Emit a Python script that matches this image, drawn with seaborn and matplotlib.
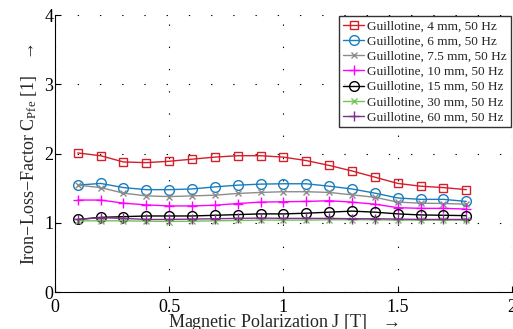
import numpy as np
import pandas as pd
import matplotlib
matplotlib.use("Agg")
import matplotlib.pyplot as plt
import seaborn as sns

# polarization J [T]
J = [0.1, 0.2, 0.3, 0.4, 0.5, 0.6, 0.7, 0.8, 0.9, 1.0, 1.1, 1.2, 1.3, 1.4, 1.5, 1.6, 1.7, 1.8]

cut_4 = [2.01, 1.97, 1.88, 1.87, 1.89, 1.92, 1.95, 1.97, 1.97, 1.95, 1.90, 1.83, 1.75, 1.66, 1.57, 1.53, 1.51, 1.48]
cut_6 = [1.545, 1.57, 1.51, 1.48, 1.48, 1.49, 1.52, 1.545, 1.56, 1.565, 1.565, 1.53, 1.49, 1.43, 1.36, 1.34, 1.34, 1.31]
cut_7_5 = [1.545, 1.51, 1.43, 1.39, 1.38, 1.39, 1.40, 1.425, 1.44, 1.45, 1.45, 1.44, 1.405, 1.37, 1.30, 1.285, 1.28, 1.27]
cut_10 = [1.33, 1.33, 1.285, 1.26, 1.245, 1.245, 1.255, 1.28, 1.30, 1.305, 1.31, 1.32, 1.30, 1.27, 1.22, 1.21, 1.21, 1.20]
cut_15 = [1.05, 1.08, 1.09, 1.10, 1.10, 1.10, 1.11, 1.12, 1.13, 1.13, 1.14, 1.155, 1.17, 1.155, 1.13, 1.115, 1.11, 1.105]
cut_30 = [1.03, 1.03, 1.03, 1.025, 1.02, 1.025, 1.03, 1.035, 1.04, 1.04, 1.04, 1.045, 1.045, 1.045, 1.04, 1.04, 1.04, 1.04]
cut_60 = [1.05, 1.075, 1.065, 1.05, 1.05, 1.055, 1.06, 1.065, 1.07, 1.065, 1.065, 1.065, 1.06, 1.06, 1.055, 1.05, 1.05, 1.05]

labels = ["Guillotine, 4 mm, 50 Hz", "Guillotine, 6 mm, 50 Hz", "Guillotine, 7.5 mm, 50 Hz",
          "Guillotine, 10 mm, 50 Hz", "Guillotine, 15 mm, 50 Hz", "Guillotine, 30 mm, 50 Hz",
          "Guillotine, 60 mm, 50 Hz"]
series = [cut_4, cut_6, cut_7_5, cut_10, cut_15, cut_30, cut_60]
colors = ["#d2202c", "#1a7dbd", "#8c8c8c", "#ff00ff", "#000000", "#76c25a", "#7e2f8e"]
markers = ["s", "o", "x", "+", "o", "x", "+"]
msizes = [5.5, 7, 5, 7, 7, 5, 7]

sns.set_style("white")
plt.rcParams["font.family"] = ["Liberation Serif", "DejaVu Serif"]
plt.rcParams["mathtext.fontset"] = "custom"
plt.rcParams["mathtext.rm"] = "Liberation Serif"
plt.rcParams["mathtext.it"] = "Liberation Serif:italic"

fig = plt.figure(figsize=(5.13, 3.29), dpi=100)
ax = fig.add_axes([0.107, 0.112, 0.891, 0.842])

for lab, vals, col, mk, ms in zip(labels, series, colors, markers, msizes):
    sns.lineplot(x=J, y=vals, ax=ax, color=col, marker=mk, markersize=ms,
                 markerfacecolor="none", markeredgecolor=col, markeredgewidth=1.0,
                 linewidth=1.0, label=lab)

ax.set_xlim(0, 2)
ax.set_ylim(0, 4)
ax.set_xticks([0, 0.5, 1, 1.5, 2])
ax.set_xticklabels(["0", "0.5", "1", "1.5", "2"])
ax.set_yticks([0, 1, 2, 3, 4])

ax.grid(True, color="black", linewidth=0.8, linestyle=(0, (1.2, 18.8)))
for s in ["top", "right"]:
    ax.spines[s].set_visible(False)
for s in ["left", "bottom"]:
    ax.spines[s].set_color("black")
    ax.spines[s].set_linewidth(0.8)
ax.tick_params(direction="in", length=4, width=0.8, labelsize=13, pad=1,
               left=True, bottom=True, colors="black")
ax.tick_params(axis="x", pad=5)

ax.set_xlabel("Magnetic Polarization J [T]   $\\rightarrow$", fontsize=13, labelpad=-3)
ax.set_ylabel("Iron$-$Loss$-$Factor C$_{\\rm Pfe}$ [1]   $\\rightarrow$", fontsize=13, labelpad=4)

leg = ax.legend(loc="upper right", fontsize=9.5, frameon=True, fancybox=False,
                borderaxespad=0.1, handlelength=1.6, handletextpad=0.2,
                labelspacing=0.22, borderpad=0.3)
leg.get_frame().set_edgecolor("black")
leg.get_frame().set_linewidth(1.0)

fig.savefig("out.png", dpi=100)
